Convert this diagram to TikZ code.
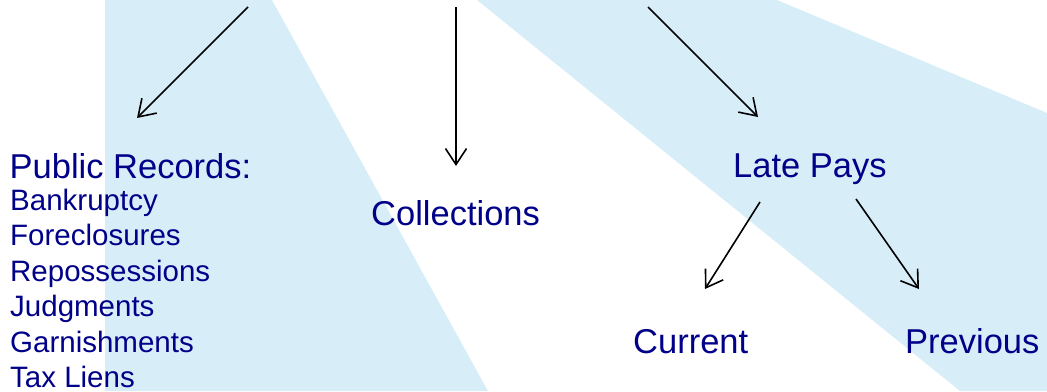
\documentclass[tikz,border=0pt]{standalone}
\usepackage{fontspec}
\setmainfont{Liberation Sans}
\usetikzlibrary{arrows.meta}
\definecolor{bandblue}{RGB}{215,238,249}
\definecolor{txtblue}{RGB}{0,0,136}
\begin{document}
\begin{tikzpicture}[x=1pt,y=-1pt,
  big/.style={font=\fontsize{34.5}{40}\selectfont, text=txtblue, inner sep=0pt, anchor=base west},
  small/.style={font=\fontsize{29.5}{35}\selectfont, text=txtblue, inner sep=0pt, anchor=base west},
  arr/.style={-{Straight Barb[length=16pt,width=21pt]}, line width=1.6pt, black}]
\useasboundingbox (0,0) rectangle (1047,391);
% background bands
\fill[bandblue] (105,0) -- (272,0) -- (488,391) -- (105,391) -- cycle;
\fill[bandblue] (477,0) -- (777,0) -- (1047,113) -- (1047,391) -- (960,391) -- cycle;
% texts
\node[big] (pub) at (9.5,178) {Public Records:};
\node[small] (bank) at (10,210) {Bankruptcy};
\node[small] (fore) at (10,245.5) {Foreclosures};
\node[small] (repo) at (10,281) {Repossessions};
\node[small] (judg) at (10,316.5) {Judgments};
\node[small] (garn) at (10,352) {Garnishments};
\node[small] (tax) at (10,387) {Tax Liens};
\node[big] (coll) at (371,225) {Collections};
\node[big] (late) at (733,177) {Late Pays};
\node[big] (cur) at (633,353) {Current};
\node[big] (prev) at (905,353) {Previous};
% connector ends
\coordinate (s1) at (248,7);
\coordinate (e1) at (137,118);
\coordinate (s2) at (456,7);
\coordinate (e2) at (456,166);
\coordinate (s3) at (648,7);
\coordinate (e3) at (758,117);
\coordinate (s4) at (760,202);
\coordinate (e4) at (705,289);
\coordinate (s5) at (856,199);
\coordinate (e5) at (919,289);
\draw[arr] (s1) -- (e1);
\draw[arr] (s2) -- (e2);
\draw[arr] (s3) -- (e3);
\draw[arr] (s4) -- (e4);
\draw[arr] (s5) -- (e5);
\end{tikzpicture}
\end{document}
